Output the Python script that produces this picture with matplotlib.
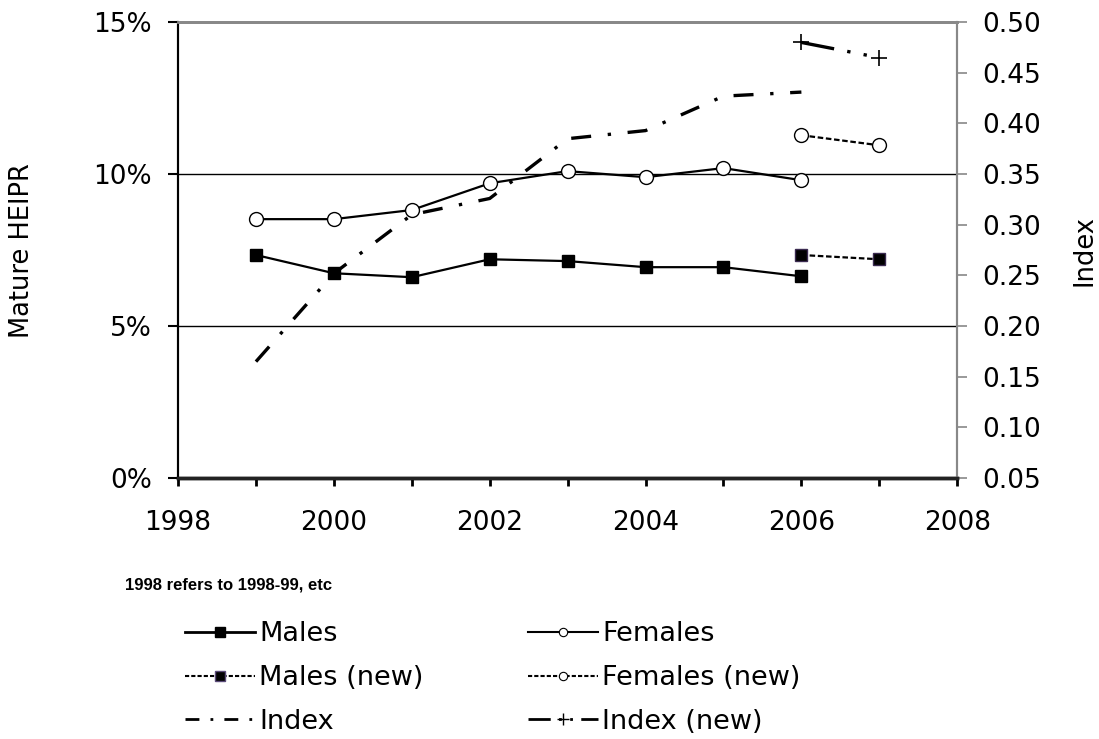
import matplotlib.pyplot as plt
from matplotlib.ticker import MultipleLocator, FuncFormatter
from matplotlib.lines import Line2D

years = [1999, 2000, 2001, 2002, 2003, 2004, 2005, 2006]
males = [7.34, 6.74, 6.61, 7.2, 7.14, 6.94, 6.94, 6.64]
females = [8.52, 8.52, 8.82, 9.7, 10.1, 9.9, 10.2, 9.8]
index = [0.165, 0.252, 0.31, 0.326, 0.385, 0.393, 0.427, 0.431]

new_years = [2006, 2007]
males_new = [7.34, 7.2]
females_new = [11.28, 10.95]
index_new = [0.48, 0.465]

plt.rcParams['font.family'] = 'DejaVu Sans'

fig = plt.figure(figsize=(10.99, 7.39), dpi=100)
ax = fig.add_axes([0.162, 0.353, 0.709, 0.617])
ax2 = ax.twinx()

ax.set_zorder(ax2.get_zorder() + 1)
ax.patch.set_visible(False)

# grid lines at 5% and 10%
for g in (5, 10):
    ax.axhline(g, color='black', lw=1, zorder=0)

ax.plot(years, males, color='black', lw=1.6, marker='s', ms=9,
        mfc='black', mec='black', label='Males')
ax.plot(new_years, males_new, color='black', lw=1.6, ls=(0, (2.5, 1.2)),
        marker='s', ms=9, mfc='black', mec='#3a2a50', label='Males (new)')
ax.plot(years, females, color='black', lw=1.6, marker='o', ms=10,
        mfc='white', mec='black', mew=1, label='Females')
ax.plot(new_years, females_new, color='black', lw=1.6, ls=(0, (2.5, 1.2)),
        marker='o', ms=10, mfc='white', mec='black', mew=1, label='Females (new)')

ax2.plot(years, index, color='black', lw=2.4, ls=(0, (6, 5, 1, 5)), label='Index')
ax2.plot(new_years, index_new, color='black', lw=2.4, ls=(0, (10, 4, 1, 4, 1, 4)),
         marker='+', ms=12, mew=1.2, label='Index (new)')

ax.set_xlim(1998, 2008)
ax.set_ylim(0, 15)
ax2.set_ylim(0.05, 0.50)

ax.xaxis.set_major_locator(MultipleLocator(2))
ax.xaxis.set_minor_locator(MultipleLocator(1))
ax.yaxis.set_major_locator(MultipleLocator(5))
ax.yaxis.set_major_formatter(FuncFormatter(lambda v, p: '%d%%' % v))
ax2.yaxis.set_major_locator(MultipleLocator(0.05))
ax2.yaxis.set_major_formatter(FuncFormatter(lambda v, p: '%.2f' % v))

ax.tick_params(axis='x', which='both', direction='out', length=6, width=2,
               labelsize=19, pad=17)
ax.tick_params(axis='y', direction='out', length=7, width=1.5, labelsize=19,
               pad=12)
ax2.tick_params(axis='y', direction='out', length=7, width=1.2, labelsize=19,
                color='#888888', pad=11)

for a in (ax, ax2):
    a.spines['top'].set_color('#888888')
    a.spines['top'].set_linewidth(2)
    a.spines['right'].set_color('#888888')
    a.spines['right'].set_linewidth(1.5)
    a.spines['left'].set_color('black')
    a.spines['left'].set_linewidth(1.5)
    a.spines['bottom'].set_color('#222222')
    a.spines['bottom'].set_linewidth(2.5)

ax.set_ylabel('Mature HEIPR', fontsize=18.5, ha='center', va='center')
ax2.set_ylabel('Index', fontsize=18.5, ha='center', va='center')
ymid = 0.5 * 0.617 + 0.353
ax.yaxis.set_label_coords(22 / 1099, ymid, transform=fig.transFigure)
ax2.yaxis.set_label_coords(1085 / 1099, ymid, transform=fig.transFigure)

fig.text(0.114, 0.208, '1998 refers to 1998-99, etc', fontsize=12,
         fontweight='bold', family='Liberation Sans', va='center')

leg_handles = [
    Line2D([], [], color='black', lw=2, marker='s', ms=7, mfc='black'),
    Line2D([], [], color='black', lw=1.5, ls=(0, (2, 1)), marker='s', ms=7,
           mfc='black', mec='#5a4a78'),
    Line2D([], [], color='black', lw=2, ls=(0, (5, 4, 1, 4))),
    Line2D([], [], color='black', lw=1.5, marker='o', ms=6, mfc='white', mew=0.8),
    Line2D([], [], color='black', lw=1.5, ls=(0, (2, 1)), marker='o', ms=6,
           mfc='white', mew=0.8),
    Line2D([], [], color='black', lw=2, ls=(0, (8, 3, 1, 3, 1, 3)), marker='+',
           ms=9, mew=1),
]
leg_labels = ['Males', 'Males (new)', 'Index', 'Females', 'Females (new)',
              'Index (new)']
fig.legend(leg_handles, leg_labels, ncol=2, frameon=False, fontsize=19.5,
           loc='upper left', bbox_to_anchor=(0.146, 0.192), handlelength=2.6,
           handletextpad=0.15, columnspacing=3.85, labelspacing=0.65)

fig.savefig('out.png', dpi=100)
